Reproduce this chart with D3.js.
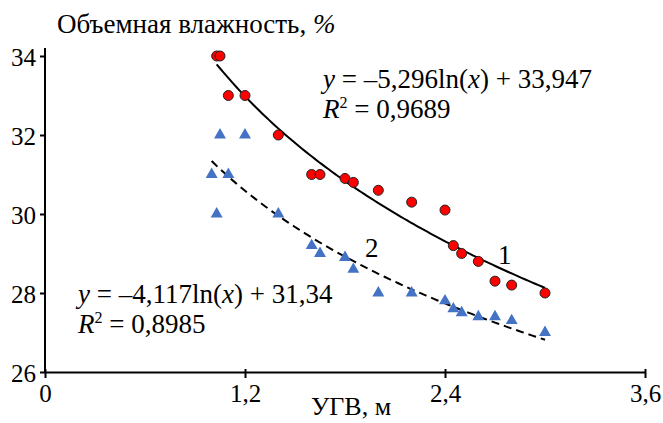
<!DOCTYPE html>
<html>
<head>
<meta charset="utf-8">
<script src="https://cdn.jsdelivr.net/npm/d3@7"></script>
<style>
  body { margin: 0; background: #fff; }
  .axis path, .axis line { stroke: #000; stroke-width: 2px; }
</style>
</head>
<body>
<svg id="chart"></svg>
<script>
"use strict";

var width = 663;
var height = 423;
var serif = "'Liberation Serif', 'Times New Roman', 'DejaVu Serif', serif";

// data
var depth1 = [1.03, 1.05, 1.10, 1.20, 1.40, 1.60, 1.65, 1.80, 1.85, 2.00, 2.20, 2.40, 2.45, 2.50, 2.60, 2.70, 2.80, 3.00];
var moist1 = [34.0, 34.0, 33.0, 33.0, 32.0, 31.0, 31.0, 30.9, 30.8, 30.6, 30.3, 30.1, 29.2, 29.0, 28.8, 28.3, 28.2, 28.0];

var depth2 = [1.00, 1.03, 1.05, 1.10, 1.20, 1.40, 1.60, 1.65, 1.80, 1.85, 2.00, 2.20, 2.40, 2.45, 2.50, 2.60, 2.70, 2.80, 3.00];
var moist2 = [31.0, 30.0, 32.0, 31.0, 32.0, 30.0, 29.2, 29.0, 28.9, 28.6, 28.0, 28.0, 27.8, 27.6, 27.5, 27.4, 27.4, 27.3, 27.0];

// log trend coefficients printed on the chart: y = a*ln(x) + b
var trend1 = [-5.296, 33.947];
var trend2 = [-4.117, 31.34];

var xTicks = [0, 1.2, 2.4, 3.6];
var yTicks = [26, 28, 30, 32, 34];

var svg = d3.select("#chart").attr("width", width).attr("height", height)
  .style("font-family", serif);

var x = d3.scaleLinear().domain([0, 3.6]).range([45, 645]);
var y = d3.scaleLinear().domain([26, 34]).range([372, 56]);

var fmt = function (d) { return String(d).replace(".", ","); };

var xAxis = svg.append("g").attr("class", "axis")
  .attr("transform", "translate(0," + y(26) + ")")
  .call(d3.axisBottom(x).tickValues(xTicks).tickFormat(fmt).tickSizeInner(6).tickSizeOuter(0).tickPadding(6));
xAxis.selectAll(".tick line").attr("y1", -3).attr("y2", 6);

var yAxis = svg.append("g").attr("class", "axis")
  .attr("transform", "translate(" + x(0) + ",0)")
  .call(d3.axisLeft(y).tickValues(yTicks).tickFormat(fmt).tickSizeInner(5).tickSizeOuter(0).tickPadding(4));
yAxis.select(".domain").attr("d", "M0," + (y(26)) + "V" + 48);
yAxis.selectAll(".tick text").attr("dy", "0.36em");

svg.selectAll(".axis").attr("font-family", serif).attr("font-size", 25);
svg.selectAll(".axis text").attr("fill", "#000");

// trend lines
var trendLine = function (coef, x0, x1) {
  var pts = d3.range(0, 101).map(function (i) {
    var xv = x0 + (x1 - x0) * i / 100;
    return [xv, coef[0] * Math.log(xv) + coef[1]];
  });
  return d3.line().x(function (d) { return x(d[0]); }).y(function (d) { return y(d[1]); })(pts);
};

svg.append("path")
  .attr("d", trendLine(trend1, d3.min(depth1), d3.max(depth1)))
  .attr("fill", "none").attr("stroke", "#000").attr("stroke-width", 2);

svg.append("path")
  .attr("d", trendLine(trend2, d3.min(depth2), d3.max(depth2)))
  .attr("fill", "none").attr("stroke", "#000").attr("stroke-width", 2)
  .attr("stroke-dasharray", "8,5");

// series 2: triangles
svg.selectAll(".tri").data(d3.range(depth2.length)).enter().append("path")
  .attr("class", "tri")
  .attr("d", d3.symbol().type(d3.symbolTriangle).size(62))
  .attr("transform", function (i) { return "translate(" + x(depth2[i]) + "," + y(moist2[i]) + ")"; })
  .attr("fill", "#4472c4");

// series 1: circles
svg.selectAll(".dot").data(d3.range(depth1.length)).enter().append("circle")
  .attr("class", "dot")
  .attr("cx", function (i) { return x(depth1[i]); })
  .attr("cy", function (i) { return y(moist1[i]); })
  .attr("r", 5)
  .attr("fill", "#ff0000").attr("stroke", "#222").attr("stroke-width", 1);

// axis titles
svg.append("text").attr("x", 57).attr("y", 33)
  .attr("font-size", 27).text("Объемная влажность, ")
  .append("tspan").attr("font-style", "italic").text("%");

svg.append("text").attr("x", 351).attr("y", 415).attr("text-anchor", "middle")
  .attr("font-size", 26).text("УГВ, м");

// equations
var equation = function (tx, ty, a, b, r2) {
  var t = svg.append("text").attr("x", tx).attr("y", ty).attr("font-size", 27);
  t.append("tspan").attr("font-style", "italic").text("y");
  t.append("tspan").text(" = –" + fmt(Math.abs(a)) + "ln(");
  t.append("tspan").attr("font-style", "italic").text("x");
  t.append("tspan").text(") + " + fmt(b));

  var r = svg.append("text").attr("x", tx).attr("y", ty + 30).attr("font-size", 27);
  r.append("tspan").attr("font-style", "italic").text("R");
  r.append("tspan").attr("font-size", 16).attr("dy", -10).text("2");
  r.append("tspan").attr("dy", 10).text(" = " + r2);
};

equation(323, 88, trend1[0], trend1[1], "0,9689");
equation(78, 303, trend2[0], trend2[1], "0,8985");

svg.append("text").attr("x", 498).attr("y", 264).attr("font-size", 27).text("1");
svg.append("text").attr("x", 365).attr("y", 257).attr("font-size", 27).text("2");

svg.selectAll("text").style("font-family", serif);
</script>
</body>
</html>
